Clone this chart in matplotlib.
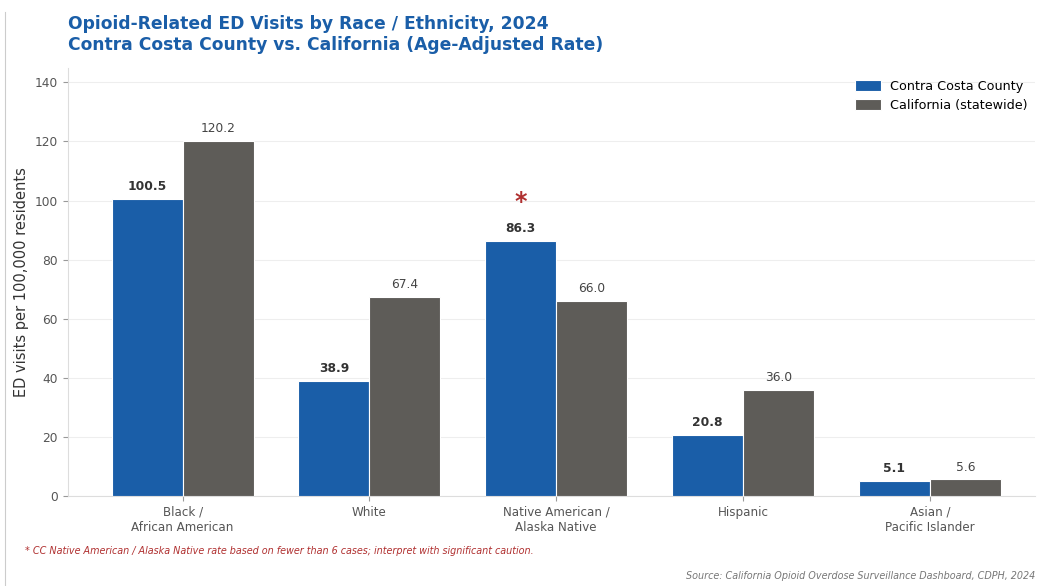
import numpy as np
import matplotlib.pyplot as plt
from matplotlib.lines import Line2D

# Opioid-related ED visits, age-adjusted rate per 100,000 (2024)
groups = ["Black /\nAfrican American", "White", "Native American /\nAlaska Native",
          "Hispanic", "Asian /\nPacific Islander"]
cc_rate = [100.5, 38.9, 86.3, 20.8, 5.1]
ca_rate = [120.2, 67.4, 66.0, 36.0, 5.6]
flagged = [2]  # small-count CC rate

blue = "#1a5ea8"
grey = "#5e5c58"

fig = plt.figure(figsize=(10.4, 5.86), dpi=100)
ax = fig.add_axes([0.065, 0.1536, 0.93, 0.731])

x = np.arange(len(groups))
w = 0.38
ax.bar(x - w / 2, cc_rate, w, color=blue, edgecolor="white", linewidth=0.8,
       label="Contra Costa County", zorder=3)
ax.bar(x + w / 2, ca_rate, w, color=grey, edgecolor="white", linewidth=0.8,
       label="California (statewide)", zorder=3)

for xi, v in zip(x, cc_rate):
    ax.text(xi - w / 2, v + 2, f"{v:.1f}", ha="center", va="bottom",
            fontsize=8.8, fontweight="bold", color="#333333")
for xi, v in zip(x, ca_rate):
    ax.text(xi + w / 2, v + 2, f"{v:.1f}", ha="center", va="bottom",
            fontsize=8.8, color="#444444")
for i in flagged:
    ax.text(x[i] - w / 2, cc_rate[i] + 9.0, "*", ha="center", va="bottom",
            fontsize=17, fontweight="bold", color="#b03030")

ax.set_xlim(-0.616, 4.562)
ax.set_ylim(0, 145)
ax.set_yticks(range(0, 141, 20))
ax.set_xticks(x)
ax.set_xticklabels(groups, fontsize=8.6, color="#555555")
ax.tick_params(axis="y", labelsize=8.8, labelcolor="#555555", color="#999999")
ax.tick_params(axis="x", color="#999999")
ax.set_ylabel("ED visits per 100,000 residents", fontsize=10.5, color="#333333")
ax.grid(axis="y", color="#eeeeee", linewidth=0.8, zorder=0)
for s in ["top", "right"]:
    ax.spines[s].set_visible(False)
for s in ["left", "bottom"]:
    ax.spines[s].set_color("#dddddd")

ax.legend(loc="upper right", frameon=False, fontsize=9.2, handlelength=2.0,
          handleheight=0.95, handletextpad=0.7, bbox_to_anchor=(1.004, 0.998))

fig.text(0.065, 0.951, "Opioid-Related ED Visits by Race / Ethnicity, 2024",
         fontsize=12.3, fontweight="bold", color=blue, va="baseline")
fig.text(0.065, 0.914, "Contra Costa County vs. California (Age-Adjusted Rate)",
         fontsize=12.3, fontweight="bold", color=blue, va="baseline")

fig.text(0.024, 0.055, "* CC Native American / Alaska Native rate based on fewer than 6 cases; "
         "interpret with significant caution.", fontsize=6.9, style="italic",
         color="#b03030")
fig.text(0.995, 0.012, "Source: California Opioid Overdose Surveillance Dashboard, CDPH, 2024",
         fontsize=6.9, style="italic", color="#777777", ha="right")

fig.add_artist(Line2D([0.005, 0.005], [0, 0.98], transform=fig.transFigure,
                      color="#cccccc", linewidth=0.8))

fig.savefig("out.png", dpi=100)
